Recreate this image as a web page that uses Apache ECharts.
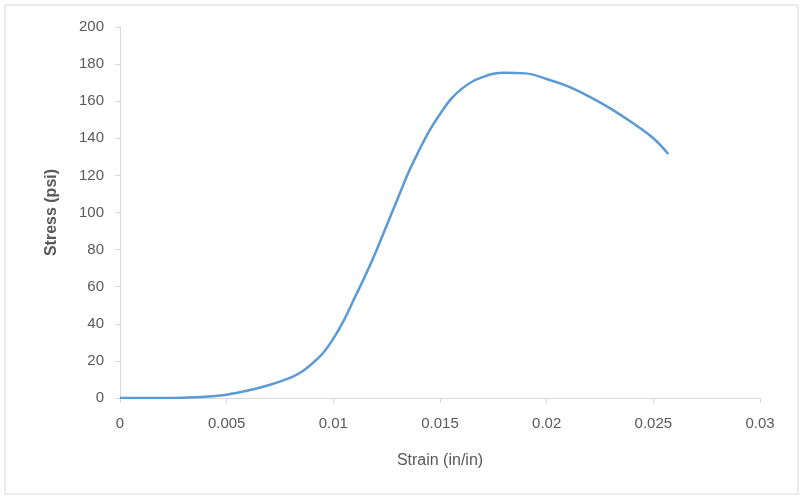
<!DOCTYPE html>
<html>
<head>
<meta charset="utf-8">
<script src="https://cdn.jsdelivr.net/npm/echarts@6/dist/echarts.min.js"></script>
<style>
  html, body { margin: 0; padding: 0; background: #fff; }
  #chart { width: 804px; height: 500px; }
</style>
</head>
<body>
<div id="chart"></div>
<script>
let strain = [0, 0.001, 0.002, 0.003, 0.004, 0.005, 0.006, 0.007, 0.008, 0.0085, 0.009, 0.0095, 0.01,
    0.0105, 0.011, 0.0115, 0.012, 0.0125, 0.013, 0.0135, 0.014, 0.0145, 0.015, 0.0155, 0.016,
    0.0165, 0.017, 0.0175, 0.018, 0.019, 0.02, 0.021, 0.022, 0.023, 0.024, 0.025, 0.0257]
let stress = [0, 0, 0, 0.2, 0.7, 1.8, 4, 7, 11, 14, 18.5, 24, 32,
    42, 54, 66, 79, 93, 107, 121, 133, 144, 153, 161, 166.5,
    170.5, 173, 174.8, 175.3, 175, 172, 168, 162.5, 156, 148.5, 140, 131.5]
let xTicks = [0, 0.005, 0.01, 0.015, 0.02, 0.025, 0.03]

let chart = echarts.init(document.getElementById('chart'));
let points = strain.map((x, i) => [x, stress[i]])
let labelColor = '#595959'
let font = 'Liberation Sans, sans-serif'

let option = {
    animation: false,
    grid: {left: 120, right: 44, top: 27, bottom: 102},
    graphic: [{
        type: 'rect',
        shape: {x: 5, y: 5, width: 793, height: 489},
        style: {fill: 'none', stroke: '#d9d9d9', lineWidth: 1}
    }],
    xAxis: {
        type: 'value',
        min: 0,
        max: 0.03,
        interval: 0.005,
        name: 'Strain (in/in)',
        nameLocation: 'middle',
        nameGap: 55,
        nameTextStyle: {color: labelColor, fontSize: 16, fontFamily: font},
        splitLine: {show: false},
        axisLine: {lineStyle: {color: '#d9d9d9'}},
        axisTick: {show: true, length: 5, lineStyle: {color: '#d9d9d9'}},
        axisLabel: {
            color: labelColor, fontSize: 15, fontFamily: font, margin: 18,
            formatter: v => String(xTicks.find(t => Math.abs(t - v) < 1e-9) ?? v)
        }
    },
    yAxis: {
        type: 'value',
        min: 0,
        max: 200,
        interval: 20,
        name: 'Stress (psi)',
        nameLocation: 'middle',
        nameGap: 60,
        nameTextStyle: {color: labelColor, fontSize: 16, fontWeight: 'bold', fontFamily: font},
        splitLine: {show: false},
        axisLine: {show: true, lineStyle: {color: '#d9d9d9'}},
        axisTick: {show: true, length: 5, lineStyle: {color: '#d9d9d9'}},
        axisLabel: {color: labelColor, fontSize: 15, fontFamily: font, margin: 16}
    },
    series: [
        {
            type: 'line',
            data: points,
            smooth: 0.4,
            showSymbol: false,
            lineStyle: {color: '#5b9bd5', width: 2.5}
        }
    ]
};
chart.setOption(option);
</script>
</body>
</html>
